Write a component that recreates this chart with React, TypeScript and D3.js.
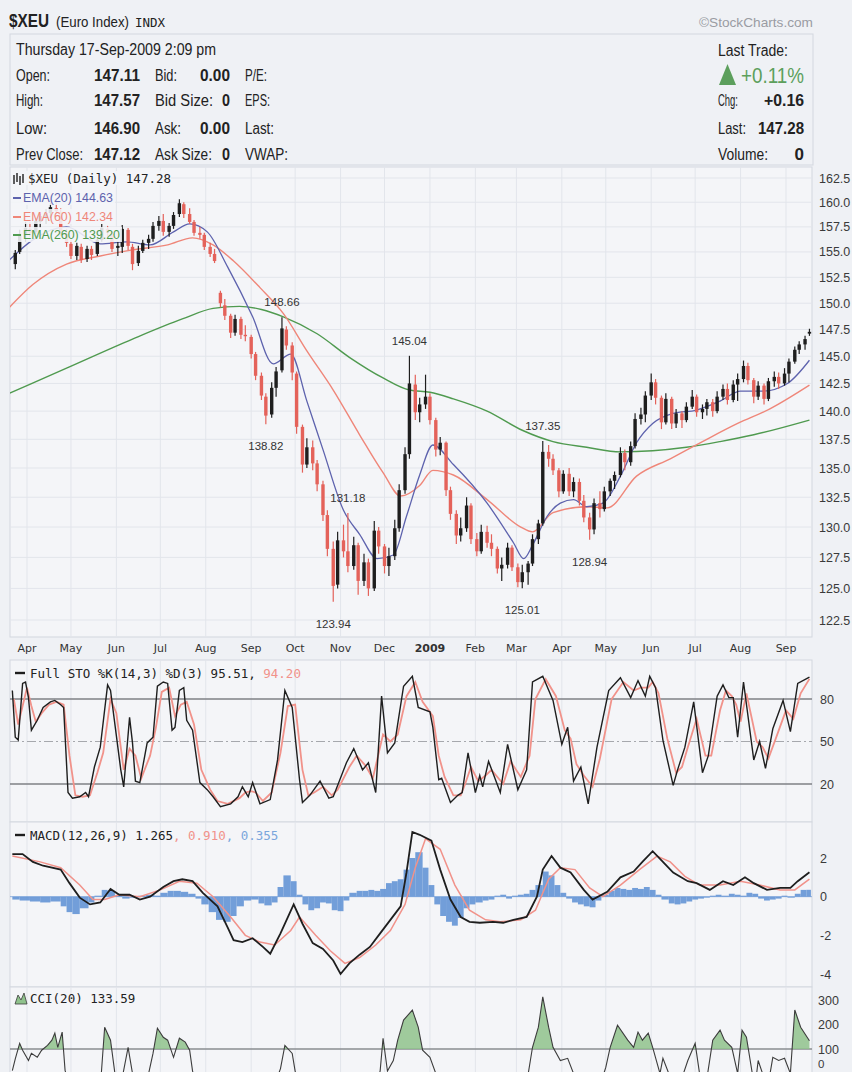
import React from "react";
import * as d3 from "d3";

type P = [number, number];

// calendar-day offsets are counted from this date
const BASE = new Date(2008, 3, 1);
const AXIS_END = new Date(2009, 8, 1);

const priceTicks = [122.5, 125.0, 127.5, 130.0, 132.5, 135.0, 137.5, 140.0, 142.5, 145.0, 147.5, 150.0, 152.5, 155.0, 157.5, 160.0, 162.5];
const stoTicks = [20, 50, 80];
const macdTicks = [-4, -2, 0, 2];
const cciTicks = [0, 100, 200, 300];

// [day offset, open, high, low, close]
const bars: [number, number, number, number, number][] = [
  [-8,153.8,155.2,153.3,154.9],[-5,155.0,157.2,154.8,156.8],[-1,156.8,158.0,156.0,157.4],[2,157.3,158.0,156.5,156.9],
  [6,157.0,158.4,156.8,158.1],[9,158.0,158.8,157.4,158.6],[13,158.5,159.3,157.8,158.9],[16,158.9,159.9,158.4,159.5],
  [20,159.4,160.2,158.8,159.1],[23,159.0,159.4,156.6,156.9],[27,156.8,157.3,155.5,155.9],[30,155.8,156.2,154.3,154.6],
  [34,154.6,155.9,154.2,155.6],[37,155.5,155.8,153.9,154.2],[41,154.3,155.6,154.0,155.3],[44,155.3,155.6,154.2,154.7],
  [48,154.8,156.4,154.6,156.2],[51,156.2,157.8,156.0,157.4],[55,157.3,157.6,156.3,156.9],[58,156.8,157.0,155.0,155.3],
  [62,155.4,156.0,154.6,155.6],[65,155.5,157.7,154.9,157.3],[69,157.2,157.4,155.2,155.6],[72,155.5,155.8,153.2,153.8],
  [76,153.9,155.6,153.6,155.1],[79,155.1,156.2,154.9,155.9],[83,155.9,156.7,155.3,156.3],[86,156.3,158.0,156.0,157.6],
  [90,157.6,158.6,157.1,158.1],[93,158.1,158.8,156.6,157.0],[97,157.0,157.9,156.5,157.6],[100,157.6,159.0,157.3,158.7],
  [104,158.8,160.3,158.5,159.9],[107,159.8,160.0,158.4,158.8],[111,158.8,159.4,157.8,158.0],[114,158.0,158.2,156.6,156.9],
  [118,156.9,157.5,156.3,156.7],[121,156.7,156.9,155.2,155.5],[125,155.5,155.9,154.5,154.8],[128,154.8,155.3,153.9,154.1],
  [132,151.0,151.2,149.6,150.0],[135,149.8,150.4,148.4,148.8],[139,148.8,149.0,146.7,147.2],[142,147.2,148.9,146.9,148.5],
  [146,148.5,148.7,146.6,147.0],[149,147.0,147.9,146.4,146.9],[153,146.8,147.0,144.8,145.2],[156,145.2,145.4,142.8,143.2],
  [160,143.2,143.5,141.0,141.4],[163,141.3,141.6,138.82,139.6],[167,139.7,142.6,139.4,142.1],[170,142.1,144.0,141.3,143.6],
  [174,143.7,148.66,143.5,147.6],[177,147.5,147.8,145.6,146.0],[181,146.0,146.3,142.8,143.5],[184,143.4,143.6,138.0,138.6],
  [188,138.6,138.8,134.6,135.3],[191,135.3,137.6,135.0,136.8],[195,136.8,137.4,134.8,135.4],[198,135.4,135.7,133.0,133.6],
  [202,133.6,133.9,130.5,131.0],[205,131.0,131.4,127.6,128.2],[209,128.2,128.8,123.94,125.2],[212,125.3,129.6,125.0,128.9],
  [216,128.9,130.2,127.5,128.0],[219,128.0,131.18,126.3,126.8],[223,126.8,129.2,126.5,128.5],[226,128.5,128.7,124.5,125.6],
  [230,125.6,127.8,125.2,127.1],[233,127.1,127.4,124.4,125.0],[237,125.0,130.5,124.8,129.7],[240,129.7,130.0,127.8,128.4],
  [244,128.4,128.6,126.2,126.8],[247,126.8,128.3,126.0,127.6],[251,127.6,130.6,127.3,129.9],[254,129.9,133.6,129.6,133.1],
  [258,133.1,136.8,132.8,136.2],[261,136.2,145.04,135.8,142.5],[265,142.4,143.3,139.2,139.9],[268,139.9,141.2,139.0,140.6],
  [272,140.6,143.3,140.2,141.3],[275,141.3,141.6,138.8,139.2],[279,139.2,139.4,136.0,136.6],[282,136.6,137.7,136.1,137.2],
  [286,137.2,137.3,132.6,133.1],[289,133.1,133.4,130.6,131.1],[293,131.1,131.4,128.6,129.3],[296,129.3,130.8,128.8,129.9],
  [300,129.9,132.5,129.6,131.8],[303,131.8,132.0,128.6,129.0],[307,129.0,129.5,127.6,128.0],[310,128.0,130.2,127.8,129.6],
  [314,129.6,130.1,128.3,128.7],[317,128.7,129.4,127.6,128.2],[321,128.2,128.4,126.2,126.6],[324,126.6,127.5,125.6,126.9],
  [328,126.9,128.7,126.6,128.3],[331,128.3,128.5,126.4,126.7],[335,126.7,127.0,125.1,125.5],[338,125.5,126.9,125.01,126.3],
  [342,126.3,127.2,125.3,127.0],[345,127.0,129.4,126.8,129.0],[349,129.0,130.6,128.6,130.3],[352,130.3,137.35,130.1,136.4],
  [356,136.4,137.0,135.1,135.8],[359,135.8,136.2,134.4,134.8],[363,134.8,135.0,132.5,133.0],[366,133.0,134.8,132.8,134.5],
  [370,134.5,135.0,132.6,133.0],[373,133.0,134.2,132.5,133.8],[377,133.8,134.1,131.8,132.2],[380,132.2,132.7,130.4,130.8],
  [384,130.8,131.2,128.94,129.8],[387,129.8,132.4,129.4,132.0],[391,132.0,133.0,130.8,131.5],[394,131.5,133.4,131.3,133.0],
  [398,133.0,134.1,132.6,133.9],[401,133.9,134.7,133.2,134.4],[405,134.4,136.8,134.2,136.3],[408,136.3,136.6,134.8,135.5],
  [412,135.5,137.3,135.2,136.9],[415,136.9,139.8,136.7,139.3],[419,139.3,140.3,138.8,139.7],[422,139.7,141.8,139.0,141.4],
  [426,141.4,143.4,141.0,142.6],[429,142.6,142.9,140.6,141.2],[433,141.2,141.4,138.4,139.0],[436,139.0,141.6,138.8,141.1],
  [440,141.1,141.3,138.4,138.9],[443,138.9,140.2,138.5,139.8],[447,139.8,140.0,138.5,139.2],[450,139.2,140.8,139.0,140.4],
  [454,140.4,141.9,140.2,141.3],[457,141.3,141.5,139.5,139.9],[461,139.9,140.6,139.3,140.2],[464,140.2,141.1,139.6,140.8],
  [468,140.8,141.1,139.5,140.0],[471,140.0,141.8,139.8,141.3],[475,141.3,142.4,141.0,142.0],[478,142.0,142.5,140.6,141.0],
  [482,141.0,142.8,140.8,142.4],[485,142.4,143.4,140.9,142.9],[489,142.9,144.6,142.6,144.1],[492,144.1,144.4,142.4,142.8],
  [496,142.8,143.0,140.7,141.3],[499,141.3,142.7,141.0,142.3],[503,142.3,142.5,140.6,141.1],[506,141.1,143.0,140.9,142.7],
  [510,142.7,143.6,142.2,143.1],[513,143.1,143.5,142.0,142.5],[517,142.5,143.9,142.3,143.4],[520,143.4,144.8,142.6,144.5],
  [524,144.5,145.9,144.3,145.6],[527,145.6,146.4,145.2,146.1],[531,146.1,146.9,145.6,146.6],[534,147.11,147.57,146.9,147.28],
];

// annotated swing points: [day, value, side]
const swings: [number, number, "hi" | "lo"][] = [
  [174, 148.66, "hi"], [163, 138.82, "lo"], [219, 131.18, "hi"], [209, 123.94, "lo"],
  [261, 145.04, "hi"], [352, 137.35, "hi"], [338, 125.01, "lo"], [384, 128.94, "lo"],
];

const ema20: P[] = [[-12,154.2],[4,156.2],[27,157.5],[50,155.8],[68,156.0],[84,155.7],[100,157.0],[111,157.8],[123,157.0],[137,153.5],[154,148.7],[168,144.3],[180,145.2],[191,140.9],[202,136.6],[216,131.4],[227,129.4],[239,127.4],[250,127.7],[259,130.9],[268,134.4],[277,137.0],[291,135.3],[314,132.0],[332,128.7],[339,127.4],[345,128.5],[355,130.9],[364,132.0],[373,132.3],[382,131.7],[393,132.0],[405,134.3],[416,137.2],[427,138.9],[441,139.8],[457,140.1],[473,140.9],[487,141.8],[502,141.8],[519,142.5],[534,144.63]];
const ema60: P[] = [[-12,149.6],[4,151.8],[27,153.8],[50,154.6],[72,155.2],[96,155.7],[113,156.4],[127,155.7],[141,154.1],[159,151.5],[175,149.0],[191,145.5],[209,141.9],[227,137.9],[243,134.6],[255,132.6],[268,133.5],[277,134.8],[291,134.4],[314,132.3],[337,130.0],[345,129.6],[359,131.2],[382,131.7],[396,131.6],[416,134.3],[439,135.8],[461,137.3],[485,138.9],[507,140.2],[534,142.34]];
const ema260: P[] = [[-12,141.6],[27,143.9],[72,146.6],[106,148.5],[127,149.5],[145,149.7],[160,149.4],[175,148.7],[198,147.1],[220,144.9],[243,143.0],[261,141.9],[275,141.7],[291,141.1],[314,140.0],[338,138.3],[359,137.3],[382,136.8],[405,136.4],[427,136.5],[450,136.8],[473,137.3],[496,137.9],[534,139.2]];

const stoK: P[] = [[-10,86],[-8,53],[-6,51],[-3,91],[-1,92],[1,81],[3,58],[7,65],[11,74],[16,78],[19,79],[23,76],[25,74],[28,14],[31,10],[36,11],[40,14],[42,11],[46,32],[50,46],[55,90],[57,86],[64,30],[66,18],[70,67],[72,49],[74,22],[77,21],[82,49],[86,53],[89,89],[93,92],[96,91],[99,58],[101,60],[104,86],[107,88],[109,65],[113,58],[118,21],[123,16],[127,11],[132,4],[139,6],[144,11],[147,18],[151,11],[154,21],[159,6],[166,9],[171,37],[176,86],[181,74],[186,23],[188,7],[193,12],[200,22],[206,10],[209,11],[218,35],[223,45],[229,30],[233,35],[238,14],[242,82],[246,42],[251,49],[257,89],[263,96],[267,74],[275,71],[277,60],[281,23],[283,24],[289,7],[294,12],[297,14],[301,42],[306,14],[309,26],[311,18],[315,36],[323,14],[328,48],[335,16],[341,30],[345,92],[352,96],[359,79],[365,48],[369,60],[373,22],[378,32],[383,6],[389,46],[397,86],[405,95],[412,81],[417,93],[422,82],[425,96],[429,88],[434,51],[441,19],[444,30],[449,46],[455,78],[461,28],[465,40],[471,82],[475,90],[479,81],[482,81],[485,53],[489,92],[496,37],[500,50],[504,31],[509,59],[516,79],[521,57],[526,91],[534,95.51]];
const stoD: P[] = [[-9,80],[-6,62],[-3,75],[0,88],[3,75],[6,64],[10,70],[15,76],[20,78],[25,76],[29,40],[33,12],[38,11],[43,12],[48,28],[52,42],[57,80],[61,70],[66,30],[70,45],[74,40],[78,24],[84,40],[88,60],[92,85],[97,88],[101,68],[105,76],[109,78],[114,62],[119,30],[125,16],[130,8],[137,6],[145,10],[149,14],[153,15],[156,14],[161,8],[167,14],[173,42],[178,75],[183,76],[188,30],[192,12],[196,14],[202,18],[208,12],[212,16],[220,32],[225,40],[231,33],[236,24],[243,55],[248,50],[253,55],[259,82],[265,92],[270,78],[277,68],[281,40],[285,25],[291,12],[296,12],[299,20],[303,32],[308,22],[313,26],[317,30],[325,20],[330,36],[337,25],[343,40],[347,80],[354,94],[361,82],[367,58],[371,52],[375,34],[380,26],[386,18],[391,38],[399,80],[407,92],[414,86],[419,88],[424,88],[427,92],[431,84],[437,52],[443,28],[447,32],[451,46],[457,66],[463,40],[467,40],[473,72],[477,86],[481,82],[484,76],[487,64],[491,84],[498,50],[502,46],[506,38],[511,52],[518,72],[523,66],[528,84],[534,94.2]];

const macd: P[] = [[-10,2.2],[-8,2.2],[-3,2.2],[4,1.8],[11,1.6],[23,1.4],[29,0.7],[36,-0.05],[43,-0.4],[50,-0.3],[57,0.4],[63,0.1],[70,0.1],[77,-0.15],[84,0],[93,0.5],[100,0.8],[106,0.9],[113,0.8],[120,0.2],[130,-0.5],[137,-1.6],[141,-2.25],[147,-2.35],[154,-2.15],[161,-2.6],[166,-2.95],[173,-1.9],[182,-0.4],[188,-1.4],[195,-2.4],[202,-2.7],[209,-3.3],[214,-4.0],[220,-3.45],[227,-3.0],[234,-2.6],[241,-1.9],[248,-1.2],[255,-0.5],[259,1.25],[263,3.35],[268,3.2],[276,2.9],[282,1.4],[289,-0.15],[296,-1.05],[302,-1.3],[309,-1.35],[318,-1.3],[325,-1.35],[332,-1.2],[341,-1.05],[348,0],[352,1.4],[358,2.1],[364,1.5],[371,1.25],[380,0.35],[386,-0.15],[396,0.25],[405,1.0],[414,1.3],[420,1.8],[427,2.35],[434,1.8],[441,1.25],[451,0.8],[457,0.7],[466,0.35],[475,0.8],[482,0.6],[490,1.0],[496,0.7],[505,0.35],[514,0.45],[521,0.45],[526,0.8],[534,1.265]];
const signal: P[] = [[-10,2.1],[9,1.8],[23,1.5],[36,0.6],[45,-0.15],[53,-0.15],[63,0.1],[77,0],[91,0.35],[104,0.8],[116,0.7],[127,0],[139,-1.05],[149,-2.0],[159,-2.35],[169,-2.5],[180,-1.75],[186,-1.05],[197,-2.0],[207,-2.8],[217,-3.45],[227,-3.15],[238,-2.5],[248,-1.75],[258,-0.4],[265,1.5],[272,3.0],[282,2.45],[292,0.6],[302,-0.7],[313,-1.2],[323,-1.3],[337,-1.2],[347,-0.7],[356,0.9],[364,1.5],[374,1.4],[384,0.45],[393,0],[405,0.6],[418,1.4],[430,2.1],[439,1.8],[449,1.05],[459,0.6],[473,0.6],[487,0.8],[500,0.6],[514,0.35],[524,0.35],[534,0.91]];
const histogram: P[] = [[-10,-0.15],[-5,-0.2],[2,-0.25],[9,-0.3],[16,-0.25],[23,-0.5],[27,-0.8],[31,-0.9],[36,-0.6],[42,-0.3],[46,0.05],[51,0.35],[55,0.3],[60,0.05],[65,-0.1],[70,-0.05],[76,0.05],[81,0.1],[87,0.05],[91,0.2],[96,0.3],[100,0.3],[105,0.25],[110,0.15],[115,-0.1],[119,-0.4],[124,-0.8],[129,-1.2],[134,-1.3],[139,-1.0],[143,-0.5],[148,-0.2],[153,-0.15],[158,-0.35],[162,-0.45],[167,-0.3],[171,0.5],[175,1.1],[180,0.8],[184,0.1],[188,-0.4],[192,-0.7],[196,-0.6],[200,-0.3],[204,-0.35],[208,-0.7],[212,-0.75],[216,-0.2],[220,0.2],[225,0.3],[229,0.3],[233,0.35],[237,0.3],[241,0.4],[245,0.7],[249,0.8],[253,0.9],[257,1.4],[261,2.0],[265,2.3],[270,1.5],[274,0.6],[278,-0.4],[282,-1.0],[286,-1.3],[290,-1.5],[294,-1.1],[298,-0.6],[302,-0.4],[306,-0.3],[311,-0.2],[315,-0.15],[319,0.05],[323,0.1],[327,-0.1],[331,0.05],[335,0.1],[339,0.15],[343,0.35],[347,0.6],[352,1.3],[356,1.1],[360,0.6],[364,0.2],[368,-0.1],[372,-0.3],[376,-0.4],[380,-0.5],[384,-0.55],[388,-0.2],[392,0.1],[397,0.3],[401,0.45],[405,0.4],[409,0.35],[413,0.45],[417,0.4],[421,0.5],[425,0.35],[429,0.1],[433,-0.15],[438,-0.35],[442,-0.4],[446,-0.35],[450,-0.25],[454,-0.15],[458,-0.1],[462,-0.05],[466,0.05],[470,0.1],[474,0.05],[479,0.15],[483,0.1],[487,0.05],[491,0.2],[495,0.15],[499,-0.1],[503,-0.2],[507,-0.15],[511,-0.1],[515,0.05],[519,-0.05],[524,0.15],[528,0.35],[532,0.355]];
const cci: P[] = [[-10,12],[-8,60],[-5,123],[-3,95],[1,53],[3,82],[7,66],[10,95],[14,115],[17,136],[19,165],[21,107],[24,169],[26,12],[33,-120],[43,-150],[50,-60],[53,189],[57,136],[60,0],[63,-80],[69,107],[72,0],[77,-120],[83,0],[86,82],[89,185],[93,148],[96,136],[100,66],[104,144],[108,128],[111,95],[113,10],[122,-180],[132,-230],[142,-150],[152,-120],[160,-200],[167,-80],[173,20],[176,115],[181,82],[183,10],[190,-180],[200,-150],[210,-170],[220,-30],[227,-60],[236,-90],[241,10],[243,144],[246,10],[250,53],[253,136],[257,218],[263,259],[267,189],[270,95],[275,66],[279,0],[285,-150],[292,-200],[302,-120],[313,-90],[323,-110],[333,-130],[341,-40],[345,107],[349,189],[352,313],[356,189],[359,107],[364,53],[369,62],[373,0],[377,-80],[384,-140],[391,-50],[395,25],[398,107],[403,197],[410,136],[414,107],[417,169],[420,136],[424,165],[427,107],[432,0],[434,62],[438,0],[442,-120],[448,0],[451,53],[456,123],[459,0],[463,-60],[468,136],[473,177],[476,136],[481,107],[485,0],[488,177],[491,148],[495,0],[497,-50],[499,53],[502,0],[506,-40],[509,66],[513,53],[517,62],[521,0],[524,259],[528,189],[534,133.59]];

const BG = "#eff1f5";
const PANEL = "#f4f5f8";
const FRAME = "#d3d7df";
const GRID = "#e2e5eb";
const BLACK = "#1e1e1e";
const RED = "#e4625a";
const C_EMA20 = "#5d62ad";
const C_EMA60 = "#ef8679";
const C_EMA260 = "#4f9a4f";
const SALMON = "#f1928a";
const HIST = "#5b8ed4";
const GREEN_TXT = "#5c9f5c";

const SANS = "'Liberation Sans', Arial, sans-serif";
const NARROW = "'Liberation Sans Narrow', 'Liberation Sans', Arial, sans-serif";
const MONO = "'DejaVu Sans Mono', monospace";
const VERD = "'DejaVu Sans', Verdana, sans-serif";

export default function App() {
  const PL = 10, PR = 812;
  const x = d3.scaleTime().domain([BASE, AXIS_END]).range([27, 786]);
  const X = (d: number) => x(d3.timeDay.offset(BASE, d));
  const pxPerDay = X(1) - X(0);

  const yP = d3.scaleLog().domain([122.5, 162.5]).range([620, 178]);
  const yS = d3.scaleLinear().domain([20, 80]).range([784, 699]);
  const yM = d3.scaleLinear().domain([-4, 2]).range([974, 858]);
  const yC = d3.scaleLinear().domain([100, 300]).range([1049, 1000]);

  const panels = {
    price: [167, 637],
    sto: [660, 822],
    macd: [822, 987],
    cci: [987, 1140],
  } as Record<string, [number, number]>;

  const months = d3.timeMonth.range(new Date(2008, 3, 1), new Date(2009, 9, 1));
  const fmtMonth = d3.timeFormat("%b");

  const smooth = (ys: (v: number) => number) =>
    d3.line<P>().x((d) => X(d[0])).y((d) => ys(d[1])).curve(d3.curveMonotoneX);
  const sharp = (ys: (v: number) => number) =>
    d3.line<P>().x((d) => X(d[0])).y((d) => ys(d[1])).curve(d3.curveLinear);

  const cciArea = d3
    .area<P>()
    .x((d) => X(d[0]))
    .y0(yC(100))
    .y1((d) => yC(d[1]))
    .curve(d3.curveLinear);

  const panelBg = (key: string) => {
    const [t, b] = panels[key];
    return (
      <g key={"bg" + key}>
        <rect x={PL} y={t} width={PR - PL} height={b - t} fill={PANEL} stroke={FRAME} strokeWidth={1} />
        {months.map((m, i) => (
          <line key={i} x1={x(m)} x2={x(m)} y1={t} y2={b} stroke={GRID} strokeWidth={1} />
        ))}
      </g>
    );
  };

  const barW = 3.4;

  return (
    <svg
      width={852}
      height={1072}
      viewBox="0 0 852 1072"
      style={{ position: "absolute", left: 0, top: 0, display: "block", background: BG }}
    >
      <defs>
        {Object.keys(panels).map((k) => (
          <clipPath id={"clip-" + k} key={k}>
            <rect x={PL} y={panels[k][0]} width={PR - PL} height={panels[k][1] - panels[k][0]} />
          </clipPath>
        ))}
        <clipPath id="clip-cci-up">
          <rect x={PL} y={panels.cci[0]} width={PR - PL} height={yC(100) - panels.cci[0]} />
        </clipPath>
      </defs>
      <rect x={0} y={0} width={852} height={1072} fill={BG} />

      {/* ---------- header ---------- */}
      <g fontFamily={NARROW} fill="#222">
        <text x={9} y={27} fontSize={18} fontWeight="bold" textLength={40} lengthAdjust="spacingAndGlyphs">$XEU</text>
        <text x={56} y={27} fontSize={14} textLength={73} lengthAdjust="spacingAndGlyphs">(Euro Index)</text>
        <text x={135} y={27} fontSize={12} fontFamily={MONO} textLength={30} lengthAdjust="spacingAndGlyphs">INDX</text>
        <text x={699} y={27} fontSize={13} fill="#9a9ca3" textLength={114} lengthAdjust="spacingAndGlyphs">©StockCharts.com</text>
        <rect x={10} y={34} width={803} height={131} fill="none" stroke={FRAME} strokeWidth={1} />
        <text x={16} y={55} fontSize={16} textLength={200} lengthAdjust="spacingAndGlyphs">Thursday  17-Sep-2009  2:09 pm</text>
        {[
          ["Open:", 34, "147.11", "Bid:", 22, "0.00", "P/E:", 22],
          ["High:", 27, "147.57", "Bid Size:", 58, "0", "EPS:", 25],
          ["Low:", 31, "146.90", "Ask:", 26, "0.00", "Last:", 29],
          ["Prev Close:", 67, "147.12", "Ask Size:", 57, "0", "VWAP:", 43],
        ].map((r, i) => {
          const yy = [81, 106, 134, 160][i];
          return (
            <g key={i}>
              <text x={16} y={yy} fontSize={16} textLength={r[1] as number} lengthAdjust="spacingAndGlyphs">{r[0]}</text>
              <text x={140} y={yy} fontSize={17} fontWeight="bold" textAnchor="end" textLength={46} lengthAdjust="spacingAndGlyphs">{r[2]}</text>
              <text x={155} y={yy} fontSize={16} textLength={r[4] as number} lengthAdjust="spacingAndGlyphs">{r[3]}</text>
              <text x={230} y={yy} fontSize={17} fontWeight="bold" textAnchor="end" textLength={(r[5] as string).length > 1 ? 30 : 8} lengthAdjust="spacingAndGlyphs">{r[5]}</text>
              <text x={245} y={yy} fontSize={16} textLength={r[7] as number} lengthAdjust="spacingAndGlyphs">{r[6]}</text>
            </g>
          );
        })}
        <text x={718} y={56} fontSize={16} textLength={70} lengthAdjust="spacingAndGlyphs">Last Trade:</text>
        <polygon points="719,85 736,85 727.5,64" fill={GREEN_TXT} />
        <text x={741} y={83} fontSize={22} fill={GREEN_TXT} textLength={63} lengthAdjust="spacingAndGlyphs">+0.11%</text>
        <text x={718} y={106} fontSize={16} textLength={20} lengthAdjust="spacingAndGlyphs">Chg:</text>
        <text x={804} y={106} fontSize={17} fontWeight="bold" textAnchor="end" textLength={40} lengthAdjust="spacingAndGlyphs">+0.16</text>
        <text x={718} y={134} fontSize={16} textLength={28} lengthAdjust="spacingAndGlyphs">Last:</text>
        <text x={804} y={134} fontSize={17} fontWeight="bold" textAnchor="end" textLength={46} lengthAdjust="spacingAndGlyphs">147.28</text>
        <text x={718} y={160} fontSize={16} textLength={50} lengthAdjust="spacingAndGlyphs">Volume:</text>
        <text x={804} y={160} fontSize={17} fontWeight="bold" textAnchor="end">0</text>
      </g>

      {/* ---------- price panel ---------- */}
      {panelBg("price")}
      {priceTicks.map((t) => (
        <g key={"pt" + t}>
          <line x1={PL} x2={PR} y1={yP(t)} y2={yP(t)} stroke={GRID} strokeWidth={1} />
          <text x={819} y={yP(t) + 4.5} fontSize={12.5} fontFamily={SANS} fill="#3a3a3a">{t.toFixed(1)}</text>
        </g>
      ))}
      <g clipPath="url(#clip-price)">
        <path d={smooth(yP)(ema260) || ""} fill="none" stroke={C_EMA260} strokeWidth={1.4} />
        <path d={smooth(yP)(ema60) || ""} fill="none" stroke={C_EMA60} strokeWidth={1.4} />
        <path d={smooth(yP)(ema20) || ""} fill="none" stroke={C_EMA20} strokeWidth={1.3} />
        {bars.map((b, i) => {
          const [d, o, h, l, c] = b;
          const prev = i > 0 ? bars[i - 1][4] : o;
          const col = c >= prev ? BLACK : RED;
          const cx = X(d);
          const top = yP(Math.max(o, c));
          const bot = yP(Math.min(o, c));
          return (
            <g key={"b" + i}>
              <line x1={cx} x2={cx} y1={yP(h)} y2={yP(l)} stroke={col} strokeWidth={1.2} />
              <rect x={cx - barW / 2} y={top} width={barW} height={Math.max(1.4, bot - top)} fill={col} />
            </g>
          );
        })}
      </g>
      {swings.map(([d, v, side], i) => (
        <text
          key={"sw" + i}
          x={X(d)}
          y={side === "hi" ? yP(v) - 11 : yP(v) + 26}
          fontSize={11.5}
          fontFamily={SANS}
          fill="#333"
          textAnchor="middle"
        >
          {v.toFixed(2)}
        </text>
      ))}
      {/* legend */}
      <g fontFamily={MONO}>
        <rect x={11} y={171} width={160} height={14} fill={PANEL} opacity={0.9} />
        <g stroke={BLACK} strokeWidth={1.4}>
          <line x1={14} x2={14} y1={175} y2={184} />
          <line x1={17} x2={17} y1={173} y2={182} />
          <line x1={20} x2={20} y1={176} y2={185} />
          <line x1={23} x2={23} y1={174} y2={183} />
        </g>
        <text x={28} y={183} fontSize={12.5} fill="#222" textLength={143} lengthAdjust="spacingAndGlyphs">$XEU (Daily) 147.28</text>
        {[
          ["EMA(20) 144.63", C_EMA20, 202, 90],
          ["EMA(60) 142.34", C_EMA60, 221, 90],
          ["EMA(260) 139.20", C_EMA260, 239, 97],
        ].map(([t, c, yy, w], i) => (
          <g key={"lg" + i}>
            <rect x={11} y={(yy as number) - 12} width={(w as number) + 14} height={15} fill={PANEL} opacity={0.88} />
            <line x1={13} x2={21} y1={(yy as number) - 4} y2={(yy as number) - 4} stroke={c as string} strokeWidth={2} />
            <text x={23} y={yy as number} fontSize={13} fontFamily={NARROW} fill={c as string} textLength={w as number} lengthAdjust="spacingAndGlyphs">{t}</text>
          </g>
        ))}
      </g>

      {/* month labels */}
      {months.map((m, i) => {
        const isYear = m.getMonth() === 0;
        return (
          <text
            key={"m" + i}
            x={x(m)}
            y={652}
            fontSize={11}
            fontFamily={VERD}
            fontWeight={isYear ? "bold" : "normal"}
            fill="#333"
            textAnchor="middle"
          >
            {isYear ? String(m.getFullYear()) : fmtMonth(m)}
          </text>
        );
      })}

      {/* ---------- STO panel ---------- */}
      {panelBg("sto")}
      {stoTicks.map((t) => (
        <g key={"st" + t}>
          <line
            x1={PL}
            x2={PR}
            y1={yS(t)}
            y2={yS(t)}
            stroke={t === 50 ? "#a6a8ad" : "#7f8186"}
            strokeWidth={t === 50 ? 1 : 1.3}
            strokeDasharray={t === 50 ? "9,3,2,3" : undefined}
          />
          <text x={820} y={yS(t) + 4.5} fontSize={12.5} fontFamily={SANS} fill="#3a3a3a">{t}</text>
        </g>
      ))}
      <g clipPath="url(#clip-sto)">
        <path d={sharp(yS)(stoD) || ""} fill="none" stroke={SALMON} strokeWidth={1.8} />
        <path d={sharp(yS)(stoK) || ""} fill="none" stroke={BLACK} strokeWidth={1.4} />
      </g>
      <line x1={15} x2={25} y1={673} y2={673} stroke={BLACK} strokeWidth={2.4} />
      <text x={30} y={678} fontSize={12.5} fontFamily={MONO} fill="#222">
        Full STO %K(14,3) %D(3) 95.51, <tspan fill={SALMON}>94.20</tspan>
      </text>

      {/* ---------- MACD panel ---------- */}
      {panelBg("macd")}
      {macdTicks.map((t) => (
        <text key={"mt" + t} x={820} y={yM(t) + 4.5} fontSize={12.5} fontFamily={SANS} fill="#3a3a3a">
          {t < 0 ? "-" + Math.abs(t) : t}
        </text>
      ))}
      <g clipPath="url(#clip-macd)">
        {histogram.map((h, i) => {
          const next = i < histogram.length - 1 ? histogram[i + 1][0] : h[0] + 3;
          const x0 = X(h[0]);
          const w = Math.max(1, (next - h[0]) * pxPerDay);
          const y0 = yM(0);
          const y1 = yM(h[1]);
          return (
            <rect key={"h" + i} x={x0} y={Math.min(y0, y1)} width={w} height={Math.max(0.8, Math.abs(y1 - y0))} fill={HIST} opacity={0.85} />
          );
        })}
        <line x1={PL} x2={PR} y1={yM(0)} y2={yM(0)} stroke={HIST} strokeWidth={1} opacity={0.6} />
        <path d={sharp(yM)(signal) || ""} fill="none" stroke={SALMON} strokeWidth={1.5} />
        <path d={sharp(yM)(macd) || ""} fill="none" stroke={BLACK} strokeWidth={1.8} />
      </g>
      <line x1={15} x2={25} y1={835} y2={835} stroke={BLACK} strokeWidth={2.4} />
      <text x={30} y={840} fontSize={12.5} fontFamily={MONO} fill="#222">
        MACD(12,26,9) 1.265<tspan fill={SALMON}>, 0.910</tspan><tspan fill="#7aa6dc">, 0.355</tspan>
      </text>

      {/* ---------- CCI panel ---------- */}
      {panelBg("cci")}
      {cciTicks.map((t) => (
        <text key={"ct" + t} x={818} y={Math.min(yC(t) + 4.5, 1068)} fontSize={t === 0 ? 11.5 : 12.5} fontFamily={SANS} fill="#3a3a3a">{t}</text>
      ))}
      <line x1={PL} x2={PR} y1={yC(100)} y2={yC(100)} stroke="#8a8c90" strokeWidth={1.3} />
      <line x1={PL} x2={PR} y1={yC(-100)} y2={yC(-100)} stroke="#8a8c90" strokeWidth={1.3} />
      <g clipPath="url(#clip-cci)">
        <g clipPath="url(#clip-cci-up)">
          <path d={cciArea(cci) || ""} fill="#8fc28c" opacity={0.85} />
        </g>
        <path d={sharp(yC)(cci) || ""} fill="none" stroke="#3c3c3c" strokeWidth={1.1} />
      </g>
      <polygon points="15,1004 18,995 21,1000 24,993 27,1004" fill="#8fc28c" stroke="#3c3c3c" strokeWidth={0.8} />
      <text x={30} y={1003} fontSize={12.5} fontFamily={MONO} fill="#222">CCI(20) 133.59</text>
    </svg>
  );
}
